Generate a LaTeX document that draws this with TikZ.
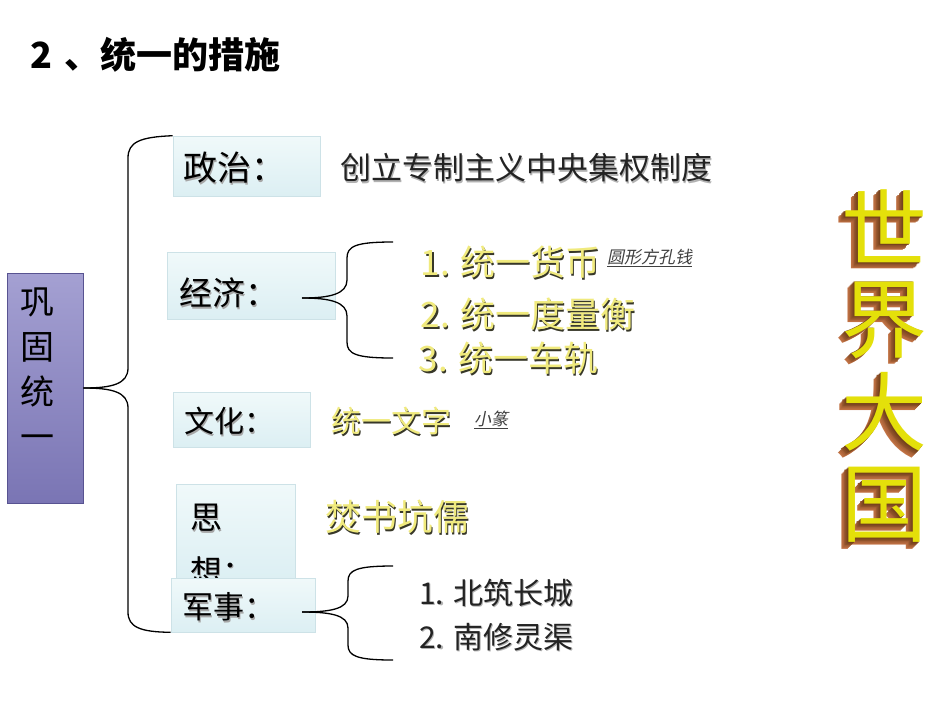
\documentclass[tikz,border=0pt]{standalone}
\usepackage{fontspec}
\newfontfamily\cjk{Noto Sans CJK SC}
\newfontfamily\cjki[FakeSlant=0.2]{Noto Sans CJK SC}
\usetikzlibrary{calc}
\definecolor{boxtop}{RGB}{240,249,250}
\definecolor{boxbot}{RGB}{220,239,243}
\definecolor{boxline}{RGB}{205,226,231}
\definecolor{purtop}{RGB}{164,160,210}
\definecolor{purbot}{RGB}{122,117,180}
\definecolor{purline}{RGB}{88,83,145}
\definecolor{ylw}{RGB}{240,234,125}
\definecolor{yshd}{RGB}{55,55,40}
\definecolor{dgray}{RGB}{35,35,35}
\definecolor{face}{RGB}{228,224,10}
\definecolor{extA}{RGB}{215,128,80}
\definecolor{extB}{RGB}{105,58,22}
\tikzset{
  cbox/.style={draw=boxline, line width=0.6pt, top color=boxtop, bottom color=boxbot, inner sep=0pt},
  pbox/.style={draw=purline, line width=0.8pt, top color=purtop, bottom color=purbot, inner sep=0pt},
  lbl/.style={anchor=west, inner sep=0pt, text=black},
  lshd/.style={anchor=west, inner sep=0pt, text=black!35},
  ytext/.style={anchor=west, inner sep=0pt, text=ylw},
  yshadow/.style={anchor=west, inner sep=0pt, text=yshd},
  dtext/.style={anchor=west, inner sep=0pt, text=dgray},
  dshadow/.style={anchor=west, inner sep=0pt, text=black!30},
  note/.style={anchor=west, inner sep=0pt, text=black!75, font=\cjki\fontsize{17}{17}\selectfont},
  brace/.style={draw=black, line width=1.3pt},
  big/.style={inner sep=0pt, font=\cjk\fontsize{86}{86}\selectfont},
}
\begin{document}
\begin{tikzpicture}[x=1pt,y=-1pt]
\useasboundingbox (0,0) rectangle (950,713);
\fill[white] (0,0) rectangle (950,713);

% title
\node[lbl, font=\cjk\bfseries\fontsize{36}{36}\selectfont] (title) at (30,55) {2\,\,、统一的措施};

% left box
\node[pbox, minimum width=76pt, minimum height=230pt] (lb) at (45,388) {};
\node[inner sep=0pt, anchor=north, align=center, font=\cjk\fontsize{34}{45}\selectfont] (lbt) at (37,288) {巩\\固\\统\\一};

% category boxes
\node[cbox, minimum width=147pt, minimum height=60pt] (bz) at (246.5,166) {};
\node[cbox, minimum width=168pt, minimum height=67pt] (jj) at (251,285.5) {};
\node[cbox, minimum width=137pt, minimum height=55pt] (wh) at (241.5,419.5) {};
\node[cbox, minimum width=119pt, minimum height=96pt] (sx) at (235.5,532) {};
\node[lshd, font=\cjk\fontsize{32}{32}\selectfont] (sx1s) at (191.5,519.5) {思};
\node[lbl, font=\cjk\fontsize{32}{32}\selectfont] (sx1) at (190,518) {思};
\node[lshd, font=\cjk\fontsize{32}{32}\selectfont] (sx2s) at (191.5,572.5) {想：};
\node[lbl, font=\cjk\fontsize{32}{32}\selectfont] (sx2) at (190,571) {想：};
\node[cbox, minimum width=144pt, minimum height=54pt] (js) at (243,605) {};

% category labels
\node[lshd, font=\cjk\fontsize{34}{34}\selectfont] (bzts) at (184.5,169.5) {政治：};
\node[lbl, font=\cjk\fontsize{34}{34}\selectfont] (bzt) at (183,168) {政治：};
\node[lshd, font=\cjk\fontsize{33}{33}\selectfont] (jjts) at (180.5,294.5) {经济：};
\node[lbl, font=\cjk\fontsize{33}{33}\selectfont] (jjt) at (179,293) {经济：};
\node[lshd, font=\cjk\fontsize{30}{30}\selectfont] (whts) at (185.5,422.5) {文化：};
\node[lbl, font=\cjk\fontsize{30}{30}\selectfont] (wht) at (184,421) {文化：};
\node[lshd, font=\cjk\fontsize{31}{31}\selectfont] (jsts) at (183.5,608.5) {军事：};
\node[lbl, font=\cjk\fontsize{31}{31}\selectfont] (jst) at (182,607) {军事：};

% big brace
\draw[brace] (lb.east) .. controls (112,388) and (128,384) .. (128,368)
  -- (128,158) .. controls (128,142) and (140,137) .. (bz.north west);
\draw[brace] (lb.east) .. controls (112,388) and (128,392) .. (128,408)
  -- (128,612) .. controls (128,627) and (140,632) .. (js.south west);

% politics
\node[dshadow, font=\cjk\fontsize{31}{31}\selectfont] (p1s) at (341.5,169.5) {创立专制主义中央集权制度};
\node[dtext, font=\cjk\fontsize{31}{31}\selectfont] (p1) at (340,168) {创立专制主义中央集权制度};

% economy
\coordinate (etip) at (302,298);
\coordinate (etop) at (393,242);
\coordinate (ebot) at (393,358);
\draw[brace] (etip) .. controls (330,298) and (347,294) .. (347,280)
  -- (347,258) .. controls (347,246) and (356,242) .. (etop);
\draw[brace] (etip) .. controls (330,298) and (347,302) .. (347,316)
  -- (347,342) .. controls (347,354) and (356,358) .. (ebot);
\node[yshadow, font=\cjk\fontsize{35}{35}\selectfont] (e1s) at (422,264) {1. 统一货币};
\node[ytext, font=\cjk\fontsize{35}{35}\selectfont] (e1) at (420.5,262.5) {1. 统一货币};
\node[note] (e1n) at (607,258) {\underline{圆形方孔钱}};
\node[yshadow, font=\cjk\fontsize{35}{35}\selectfont] (e2s) at (422,316) {2. 统一度量衡};
\node[ytext, font=\cjk\fontsize{35}{35}\selectfont] (e2) at (420.5,314.5) {2. 统一度量衡};
\node[yshadow, font=\cjk\fontsize{35}{35}\selectfont] (e3s) at (420,360) {3. 统一车轨};
\node[ytext, font=\cjk\fontsize{35}{35}\selectfont] (e3) at (418.5,358.5) {3. 统一车轨};

% culture
\node[yshadow, font=\cjk\fontsize{30}{30}\selectfont] (c1s) at (332.5,422.5) {统一文字};
\node[ytext, font=\cjk\fontsize{30}{30}\selectfont] (c1) at (331,421) {统一文字};
\node[note] (c1n) at (474,420) {\underline{小篆}};

% thought
\node[yshadow, font=\cjk\fontsize{36}{36}\selectfont] (t1s) at (326.5,518.5) {焚书坑儒};
\node[ytext, font=\cjk\fontsize{36}{36}\selectfont] (t1) at (325,517) {焚书坑儒};

% military
\coordinate (mtip) at (302,612);
\coordinate (mtop) at (393,566);
\coordinate (mbot) at (393,660);
\draw[brace] (mtip) .. controls (330,612) and (348,609) .. (348,596)
  -- (348,581) .. controls (348,570) and (357,566) .. (mtop);
\draw[brace] (mtip) .. controls (330,612) and (348,615) .. (348,628)
  -- (348,645) .. controls (348,656) and (357,660) .. (mbot);
\node[dshadow, font=\cjk\fontsize{30}{30}\selectfont] (m1s) at (420.5,594.5) {1. 北筑长城};
\node[dtext, font=\cjk\fontsize{30}{30}\selectfont] (m1) at (419,593) {1. 北筑长城};
\node[dshadow, font=\cjk\fontsize{30}{30}\selectfont] (m2s) at (420.5,638.5) {2. 南修灵渠};
\node[dtext, font=\cjk\fontsize{30}{30}\selectfont] (m2) at (419,637) {2. 南修灵渠};

% 3D title on the right
\foreach \ch/\yy/\nm in {世/226/a, 界/320/b, 大/412/c, 国/505/d}{
  \foreach \k in {8,...,1}{
    \pgfmathsetmacro{\mixv}{\k*10}
    \node[big, text=extA!\mixv!extB] (x\nm\k) at ({884-\k*0.8},{\yy+\k*0.8}) {\ch};
  }
  \node[big, text=face] (f\nm) at (884,\yy) {\ch};
}
\end{tikzpicture}
\end{document}
